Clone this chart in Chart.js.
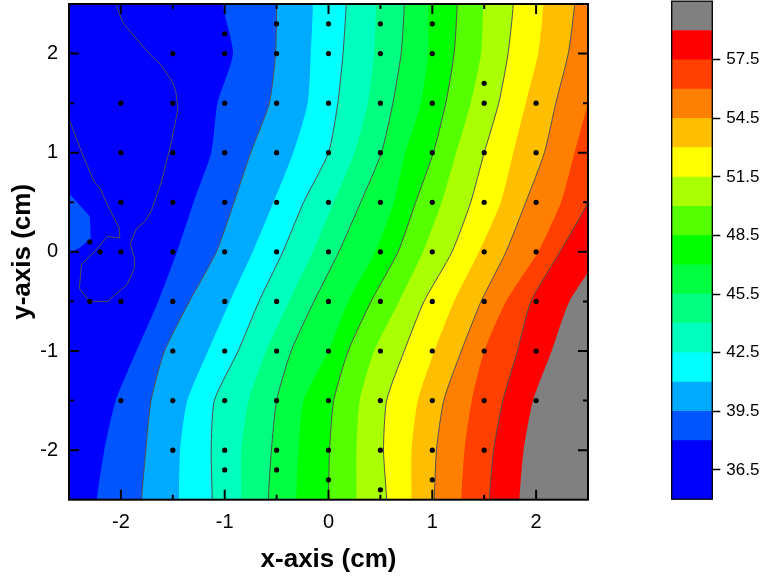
<!DOCTYPE html>
<html>
<head>
<meta charset="utf-8">
<script src="https://cdn.jsdelivr.net/npm/chart.js@4.4.1/dist/chart.umd.min.js"></script>
<style>
  html, body { margin: 0; padding: 0; background: #fff; }
  #wrap { position: relative; width: 762px; height: 577px; }
  #contour { position: absolute; left: 0; top: 0; }
  #colorbar { position: absolute; left: 640px; top: 0; }
</style>
</head>
<body>
<div id="wrap">
  <canvas id="contour" width="640" height="577"></canvas>
  <canvas id="colorbar" width="122" height="577"></canvas>
</div>
<script>
// y positions (cm) at which the contour boundaries were read, bottom to top
const yLevels = [-2.5, -2, -1.5, -1, -0.5, 0, 0.5, 1, 1.5, 2, 2.5];

// x position (cm) of each contour boundary at those y positions
const x38   = [-2.23, -2.16, -2.05, -1.85, -1.64, -1.46, -1.30, -1.13, -1.07, -0.92, -1.02];
const x39_5 = [-1.80, -1.76, -1.71, -1.58, -1.34, -1.08, -0.91, -0.75, -0.57, -0.51, -0.50];
const x41   = [-1.44, -1.43, -1.36, -1.16, -0.95, -0.73, -0.53, -0.34, -0.20, -0.17, -0.15];
const x42_5 = [-1.12, -1.13, -1.10, -0.87, -0.67, -0.44, -0.24, 0.00, 0.09, 0.14, 0.17];
const x44   = [-0.84, -0.84, -0.77, -0.60, -0.38, -0.15, 0.05, 0.25, 0.38, 0.44, 0.46];
const x45_5 = [-0.58, -0.55, -0.50, -0.36, -0.14, 0.10, 0.31, 0.51, 0.62, 0.70, 0.73];
const x47   = [-0.31, -0.29, -0.24, 0.00, 0.19, 0.45, 0.63, 0.74, 0.89, 0.96, 0.96];
const x48_5 = [0.00, 0.01, 0.05, 0.19, 0.41, 0.67, 0.84, 1.01, 1.13, 1.21, 1.24];
const x50   = [0.27, 0.27, 0.30, 0.44, 0.68, 0.91, 1.09, 1.23, 1.37, 1.47, 1.49];
const x51_5 = [0.56, 0.53, 0.56, 0.73, 0.92, 1.19, 1.37, 1.50, 1.64, 1.73, 1.78];
const x53   = [0.80, 0.80, 0.86, 1.02, 1.21, 1.45, 1.66, 1.78, 1.90, 2.02, 2.07];
const x54_5 = [1.02, 1.04, 1.11, 1.28, 1.47, 1.71, 1.90, 2.08, 2.19, 2.31, 2.37];
const x56   = [1.28, 1.31, 1.38, 1.50, 1.71, 2.02, 2.24, 2.37, 2.50, 2.63, 2.77];
const x57_5 = [1.55, 1.59, 1.68, 1.82, 1.95, 2.23, 2.50, 2.68, 2.84, 3.01, 3.16];
const x59   = [1.84, 1.88, 1.97, 2.15, 2.32, 2.63, 2.87, 3.11, 3.30, 3.50, 3.69];

// level 36.5 contour inside the blue area (from left edge to top edge)
const line365X = [-2.58, -2.5, -2.38, -2.26, -2.20, -2.11, -2.02, -2.01, -2.13, -2.25, -2.38, -2.40, -2.30, -2.13, -1.94, -1.87, -1.87, -1.91, -1.85, -1.77, -1.71, -1.61, -1.52, -1.45, -1.47, -1.50, -1.61, -1.71, -1.90, -1.98, -2.05, -2.07];
const line365Y = [1.41, 1.34, 1.01, 0.71, 0.64, 0.43, 0.25, 0.14, 0.155, 0.005, -0.125, -0.37, -0.50, -0.50, -0.33, -0.165, -0.065, 0.085, 0.235, 0.305, 0.405, 0.705, 1.08, 1.44, 1.61, 1.71, 1.88, 1.98, 2.21, 2.31, 2.5, 2.56];

// small island above 38 on the left edge
const patchX = [-2.5, -2.30, -2.29, -2.40, -2.5];
const patchY = [0.59, 0.36, 0.135, 0.04, -0.015];

// measurement points
const dotX = [
  -0.5, 0, 0.5, 1,
  -1,
  -1.5, -1, -0.5, 0, 0.5, 1,
  1.5,
  -2, -1.5, -1, -0.5, 0, 0.5, 1, 1.5, 2,
  -2, -1.5, -1, -0.5, 0, 0.5, 1, 1.5, 2,
  -2, -1.5, -1, -0.5, 0, 0.5, 1, 1.5, 2,
  -2.3,
  -2.2, -2, -1.5, -1, -0.5, 0, 0.5, 1, 1.5, 2,
  -2.3, -2, -1.5, -1, -0.5, 0, 0.5, 1, 1.5, 2,
  -1.5, -1, -0.5, 0, 0.5, 1, 1.5, 2,
  -2, -1.5, -1, -0.5, 0, 0.5, 1, 1.5, 2,
  -1.5, -1, -0.5, 0, 0.5, 1, 1.5,
  -1, -0.5, 0, 1, 0.5
];
const dotY = [
  2.3, 2.3, 2.3, 2.3,
  2.2,
  2, 2, 2, 2, 2, 2,
  1.7,
  1.5, 1.5, 1.5, 1.5, 1.5, 1.5, 1.5, 1.5, 1.5,
  1, 1, 1, 1, 1, 1, 1, 1, 1,
  0.5, 0.5, 0.5, 0.5, 0.5, 0.5, 0.5, 0.5, 0.5,
  0.1,
  0, 0, 0, 0, 0, 0, 0, 0, 0, 0,
  -0.5, -0.5, -0.5, -0.5, -0.5, -0.5, -0.5, -0.5, -0.5, -0.5,
  -1, -1, -1, -1, -1, -1, -1, -1,
  -1.5, -1.5, -1.5, -1.5, -1.5, -1.5, -1.5, -1.5, -1.5,
  -2, -2, -2, -2, -2, -2, -2,
  -2.2, -2.2, -2.3, -2.3, -2.4
];

// colour levels and band colours (bottom to top)
const levels = [35, 36.5, 38, 39.5, 41, 42.5, 44, 45.5, 47, 48.5, 50, 51.5, 53, 54.5, 56, 57.5, 59, 60.5];
const bandColors = ['#0000FF', '#0000FF', '#0055FF', '#00AAFF', '#00FFFF', '#00FFBF', '#00FF80', '#00FF40',
                    '#00FF00', '#55FF00', '#AAFF00', '#FFFF00', '#FFBF00', '#FF8000', '#FF4000', '#FF0000', '#808080'];
const lineLevels = [36.5, 39.5, 42.5, 45.5, 48.5, 51.5, 54.5, 57.5];

const xTicks = [-2, -1, 0, 1, 2];
const yTicks = [-2, -1, 0, 1, 2];
const minorTicks = [-1.5, -0.5, 0.5, 1.5];
const barTicks = [36.5, 39.5, 42.5, 45.5, 48.5, 51.5, 54.5, 57.5];

const boundaries = [x38, x39_5, x41, x42_5, x44, x45_5, x47, x48_5, x50, x51_5, x53, x54_5, x56, x57_5, x59];

const FONT = "'Liberation Sans', Arial, sans-serif";
const LINE_COLOR = '#505050';

// frame + inward ticks on all four sides
const frameTicks = {
    id: 'frameTicks',
    afterDatasetsDraw(chart, args, opts) {
        const {ctx, chartArea: a, scales} = chart;
        ctx.save();
        ctx.strokeStyle = '#000';
        ctx.lineWidth = opts.width;
        if (opts.ticks) {
            [[xTicks, 10], [minorTicks, 5]].forEach(([list, len]) => {
                list.forEach(v => {
                    const px = scales.x.getPixelForValue(v);
                    const py = scales.y.getPixelForValue(v);
                    ctx.beginPath();
                    ctx.moveTo(px, a.bottom); ctx.lineTo(px, a.bottom - len);
                    ctx.moveTo(px, a.top); ctx.lineTo(px, a.top + len);
                    ctx.moveTo(a.left, py); ctx.lineTo(a.left + len, py);
                    ctx.moveTo(a.right, py); ctx.lineTo(a.right - len, py);
                    ctx.stroke();
                });
            });
        }
        ctx.strokeRect(a.left, a.top, a.right - a.left, a.bottom - a.top);
        ctx.restore();
    }
};

// no extra room for the end labels: the plot area is fixed
function noPadding(s) {
    s.paddingTop = 0; s.paddingBottom = 0; s.paddingLeft = 0; s.paddingRight = 0;
}

// region right of a boundary; starts at far left and ends at far right
function bandPolygon(xs) {
    const pts = [{x: -3, y: -3}, {x: xs[0], y: -3}];
    xs.forEach((x, i) => pts.push({x: x, y: yLevels[i]}));
    pts.push({x: xs[xs.length - 1], y: 3}, {x: 3, y: 3}, {x: 3, y: -3});
    return pts;
}

const datasets = [];
datasets.push({
    data: dotX.map((x, i) => ({x: x, y: dotY[i]})),
    showLine: false, pointRadius: 2.6, pointBackgroundColor: '#000', pointBorderWidth: 0, order: 0
});
datasets.push({
    data: line365X.map((x, i) => ({x: x, y: line365Y[i]})),
    showLine: true, fill: false, borderColor: LINE_COLOR, borderWidth: 1, pointRadius: 0, tension: 0, order: 1
});
// island path goes out to the left and back along the top so it starts at min x and ends at max x
const patchPts = [{x: -2.7, y: 3}, {x: -2.7, y: patchY[patchY.length - 1]}];
for (let i = patchX.length - 1; i >= 0; i--) patchPts.push({x: patchX[i], y: patchY[i]});
patchPts.push({x: -2.7, y: patchY[0]}, {x: -2.7, y: 3}, {x: -2.2, y: 3});
datasets.push({
    data: patchPts, showLine: true, fill: 'shape', backgroundColor: bandColors[2],
    borderWidth: 0, borderColor: 'transparent', pointRadius: 0, tension: 0, order: 2
});
boundaries.forEach((xs, i) => {
    const level = levels[i + 2];
    const lined = lineLevels.includes(level);
    datasets.push({
        data: bandPolygon(xs), showLine: true, fill: 'shape',
        backgroundColor: bandColors[i + 2],
        borderColor: lined ? LINE_COLOR : 'transparent',
        borderWidth: lined ? 1 : 0,
        pointRadius: 0, tension: 0.2, order: 100 - i
    });
});
datasets.push({
    data: [{x: -3, y: -3}, {x: -3, y: 3}, {x: 3, y: 3}, {x: 3, y: -3}],
    showLine: true, fill: 'shape', backgroundColor: bandColors[0],
    borderWidth: 0, borderColor: 'transparent', pointRadius: 0, tension: 0, order: 200
});

new Chart(document.getElementById('contour'), {
    type: 'scatter',
    data: { datasets: datasets },
    options: {
        responsive: false,
        animation: false,
        devicePixelRatio: 1,
        layout: { padding: { top: 1.3, right: 52, left: 0, bottom: 0 } },
        elements: { line: { capBezierPoints: false } },
        plugins: {
            legend: { display: false },
            tooltip: { enabled: false },
            frameTicks: { width: 2, ticks: true }
        },
        scales: {
            x: {
                type: 'linear', min: -2.5, max: 2.5,
                grid: { display: false, drawTicks: false }, border: { display: false },
                afterBuildTicks: s => { s.ticks = xTicks.map(v => ({value: v})); },
                afterFit: s => { s.height = 77.3; noPadding(s); },
                ticks: { color: '#000', padding: 11, font: { family: FONT, size: 20 }, callback: v => String(v) },
                title: { display: true, text: 'x-axis (cm)', color: '#000',
                         font: { family: FONT, size: 26, weight: 'bold' }, padding: { top: 0, bottom: 2 } }
            },
            y: {
                type: 'linear', min: -2.5, max: 2.5,
                grid: { display: false, drawTicks: false }, border: { display: false },
                afterBuildTicks: s => { s.ticks = yTicks.map(v => ({value: v})); },
                afterFit: s => { s.width = 69; noPadding(s); },
                ticks: { color: '#000', padding: 11, font: { family: FONT, size: 20 }, callback: v => String(v) },
                title: { display: true, text: 'y-axis (cm)', color: '#000',
                         font: { family: FONT, size: 26, weight: 'bold' }, padding: { top: 7, bottom: 0 } }
            }
        }
    },
    plugins: [frameTicks]
});

// colour scale
new Chart(document.getElementById('colorbar'), {
    type: 'bar',
    data: {
        labels: [''],
        datasets: bandColors.map((c, i) => ({
            data: [[levels[i], levels[i + 1]]],
            backgroundColor: c, borderWidth: 0,
            barPercentage: 1, categoryPercentage: 1, grouped: false
        }))
    },
    options: {
        responsive: false,
        animation: false,
        devicePixelRatio: 1,
        layout: { padding: { left: 31.7, top: 1.2, bottom: 77.8, right: 0 } },
        plugins: {
            legend: { display: false },
            tooltip: { enabled: false },
            frameTicks: { width: 1.3, ticks: false }
        },
        scales: {
            x: { display: false },
            y: {
                position: 'right', min: 35, max: 60.5,
                afterBuildTicks: s => { s.ticks = barTicks.map(v => ({value: v})); },
                afterFit: s => { s.width = 49.7; noPadding(s); },
                grid: { drawOnChartArea: false, drawTicks: true, tickLength: 8, tickWidth: 1.5, tickColor: '#000' },
                border: { display: false },
                ticks: { color: '#000', padding: 6, font: { family: FONT, size: 17 }, callback: v => v.toFixed(1) }
            }
        }
    },
    plugins: [frameTicks]
});
</script>
</body>
</html>
